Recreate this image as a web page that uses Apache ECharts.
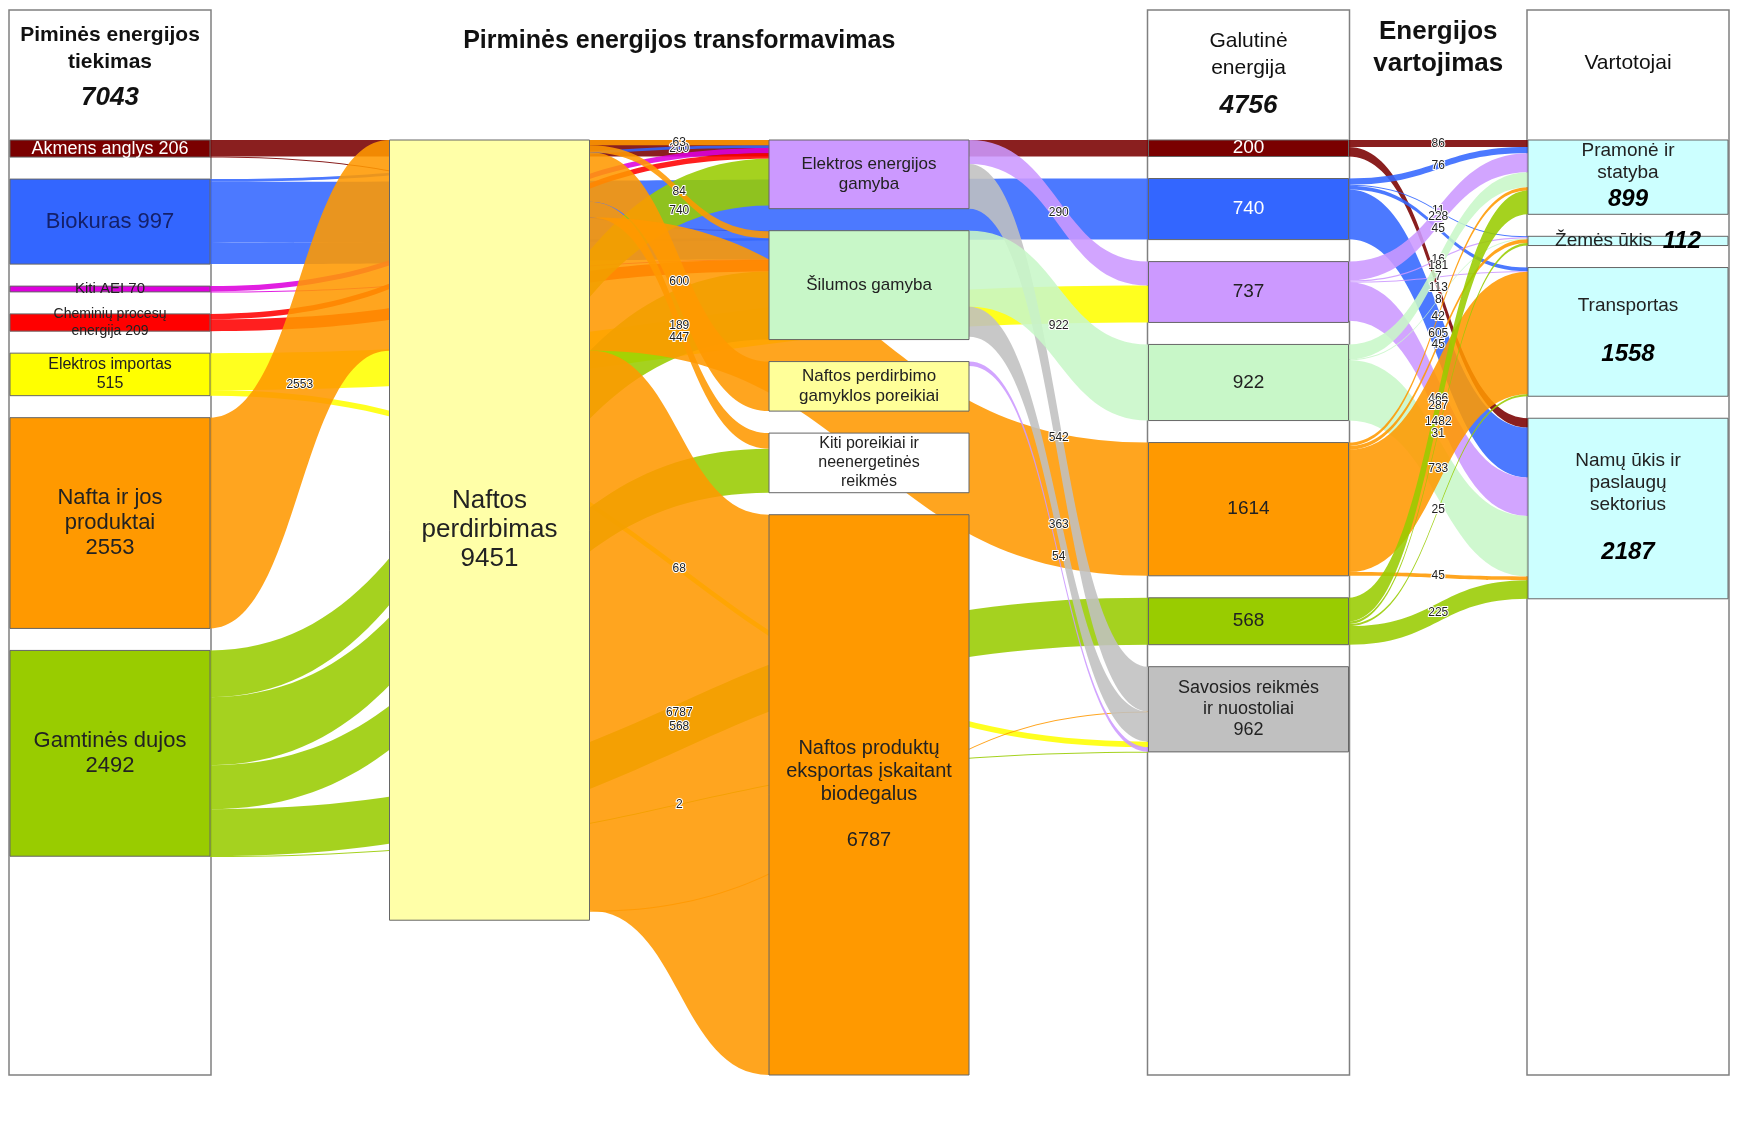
<!DOCTYPE html>
<html>
<head>
<meta charset="utf-8">
<script src="https://cdn.jsdelivr.net/npm/echarts@6/dist/echarts.min.js"></script>
<style>
html,body{margin:0;padding:0;background:#ffffff;}
#chart{width:1738px;height:1141px;}
</style>
</head>
<body>
<div id="chart"></div>
<script>
// ---------------- DATA ----------------
const supplyNodes = ['Akmens anglys', 'Biokuras', 'Kiti AEI', 'Cheminių procesų energija', 'Elektros importas', 'Nafta ir jos produktai', 'Gamtinės dujos'];
const supplyValues = [206, 997, 70, 209, 515, 2553, 2492];
const supplyTotal = 7043;

const transformNodes = ['Naftos perdirbimas', 'Elektros energijos gamyba', 'Šilumos gamyba', 'Naftos perdirbimo gamyklos poreikiai', 'Kiti poreikiai ir neenergetinės reikmės', 'Naftos produktų eksportas įskaitant biodegalus'];
const transformValues = [9451, null, null, null, null, 6787];

const finalNodes = ['Anglys (galutinė)', 'Biokuras (galutinė)', 'Elektra (galutinė)', 'Šiluma (galutinė)', 'Naftos produktai (galutinė)', 'Dujos (galutinė)', 'Savosios reikmės ir nuostoliai'];
const finalValues = [200, 740, 737, 922, 1614, 568, 962];
const finalTotal = 4756;

const consumerNodes = ['Pramonė ir statyba', 'Žemės ūkis', 'Transportas', 'Namų ūkis ir paslaugų sektorius'];
const consumerValues = [899, 112, 1558, 2187];

// [from, to, value]
const supplyFlows = [
  ['Akmens anglys', 'Šilumos gamyba', 7],
  ['Akmens anglys', 'Anglys (galutinė)', 200],
  ['Biokuras', 'Elektros energijos gamyba', 33],
  ['Biokuras', 'Šilumos gamyba', 257],
  ['Biokuras', 'Biokuras (galutinė)', 740],
  ['Kiti AEI', 'Elektros energijos gamyba', 66],
  ['Kiti AEI', 'Šilumos gamyba', 4],
  ['Cheminių procesų energija', 'Elektros energijos gamyba', 66],
  ['Cheminių procesų energija', 'Šilumos gamyba', 143],
  ['Elektros importas', 'Elektra (galutinė)', 447],
  ['Elektros importas', 'Savosios reikmės ir nuostoliai', 68],
  ['Nafta ir jos produktai', 'Naftos perdirbimas', 2553],
  ['Gamtinės dujos', 'Elektros energijos gamyba', 566],
  ['Gamtinės dujos', 'Šilumos gamyba', 824],
  ['Gamtinės dujos', 'Kiti poreikiai ir neenergetinės reikmės', 533],
  ['Gamtinės dujos', 'Dujos (galutinė)', 568],
  ['Gamtinės dujos', 'Savosios reikmės ir nuostoliai', 2]
];
const transformFlows = [
  ['Naftos perdirbimas', 'Elektros energijos gamyba', 63],
  ['Naftos perdirbimas', 'Šilumos gamyba', 84],
  ['Naftos perdirbimas', 'Naftos perdirbimo gamyklos poreikiai', 600],
  ['Naftos perdirbimas', 'Kiti poreikiai ir neenergetinės reikmės', 189],
  ['Naftos perdirbimas', 'Naftos produktų eksportas įskaitant biodegalus', 6787],
  ['Naftos perdirbimas', 'Naftos produktai (galutinė)', 1614],
  ['Naftos perdirbimas', 'Savosios reikmės ir nuostoliai', 3],
  ['Elektros energijos gamyba', 'Elektra (galutinė)', 290],
  ['Elektros energijos gamyba', 'Savosios reikmės ir nuostoliai', 542],
  ['Šilumos gamyba', 'Šiluma (galutinė)', 922],
  ['Šilumos gamyba', 'Savosios reikmės ir nuostoliai', 363],
  ['Naftos perdirbimo gamyklos poreikiai', 'Savosios reikmės ir nuostoliai', 54]
];
const consumptionFlows = [
  ['Anglys (galutinė)', 'Pramonė ir statyba', 86],
  ['Anglys (galutinė)', 'Namų ūkis ir paslaugų sektorius', 113],
  ['Biokuras (galutinė)', 'Pramonė ir statyba', 76],
  ['Biokuras (galutinė)', 'Žemės ūkis', 11],
  ['Biokuras (galutinė)', 'Transportas', 45],
  ['Biokuras (galutinė)', 'Namų ūkis ir paslaugų sektorius', 605],
  ['Elektra (galutinė)', 'Pramonė ir statyba', 228],
  ['Elektra (galutinė)', 'Žemės ūkis', 16],
  ['Elektra (galutinė)', 'Transportas', 7],
  ['Elektra (galutinė)', 'Namų ūkis ir paslaugų sektorius', 466],
  ['Šiluma (galutinė)', 'Pramonė ir statyba', 181],
  ['Šiluma (galutinė)', 'Žemės ūkis', 8],
  ['Šiluma (galutinė)', 'Namų ūkis ir paslaugų sektorius', 733],
  ['Naftos produktai (galutinė)', 'Pramonė ir statyba', 42],
  ['Naftos produktai (galutinė)', 'Žemės ūkis', 45],
  ['Naftos produktai (galutinė)', 'Transportas', 1482],
  ['Naftos produktai (galutinė)', 'Namų ūkis ir paslaugų sektorius', 45],
  ['Dujos (galutinė)', 'Pramonė ir statyba', 287],
  ['Dujos (galutinė)', 'Žemės ūkis', 31],
  ['Dujos (galutinė)', 'Transportas', 25],
  ['Dujos (galutinė)', 'Namų ūkis ir paslaugų sektorius', 225]
];

// ---------------- STYLE / LAYOUT ----------------
const W = 1738, H = 1141;
const L = 10, R = 10, NW = 200, TOP = 140, BOTTOM = 66;
const colX = i => L + i * (W - L - R - NW) / 4;

const C = {
  coal: '#7a0000', bio: '#3366ff', aei: '#dd00dd', chem: '#ff0000', imp: '#ffff00',
  oil: '#ff9900', gas: '#99cc00', elec: '#cc99ff', heat: '#c8f7c8', loss: '#c0c0c0',
  cons: '#ccffff', refin: '#ffffa8', needs: '#ffff99', other: '#ffffff'
};
const nodeColor = {
  'Akmens anglys': C.coal, 'Biokuras': C.bio, 'Kiti AEI': C.aei, 'Cheminių procesų energija': C.chem,
  'Elektros importas': C.imp, 'Nafta ir jos produktai': C.oil, 'Gamtinės dujos': C.gas,
  'Naftos perdirbimas': C.refin, 'Elektros energijos gamyba': C.elec, 'Šilumos gamyba': C.heat,
  'Naftos perdirbimo gamyklos poreikiai': C.needs, 'Kiti poreikiai ir neenergetinės reikmės': C.other,
  'Naftos produktų eksportas įskaitant biodegalus': C.oil,
  'Anglys (galutinė)': C.coal, 'Biokuras (galutinė)': C.bio, 'Elektra (galutinė)': C.elec,
  'Šiluma (galutinė)': C.heat, 'Naftos produktai (galutinė)': C.oil, 'Dujos (galutinė)': C.gas,
  'Savosios reikmės ir nuostoliai': C.loss,
  'Pramonė ir statyba': C.cons, 'Žemės ūkis': C.cons, 'Transportas': C.cons, 'Namų ūkis ir paslaugų sektorius': C.cons
};
const labelText = {
  'Akmens anglys': v => 'Akmens anglys ' + v,
  'Biokuras': v => 'Biokuras ' + v,
  'Kiti AEI': v => 'Kiti AEI ' + v,
  'Cheminių procesų energija': v => 'Cheminių procesų\nenergija ' + v,
  'Elektros importas': v => 'Elektros importas\n' + v,
  'Nafta ir jos produktai': v => 'Nafta ir jos\nproduktai\n' + v,
  'Gamtinės dujos': v => 'Gamtinės dujos\n' + v,
  'Naftos perdirbimas': v => 'Naftos\nperdirbimas\n' + v,
  'Elektros energijos gamyba': () => 'Elektros energijos\ngamyba',
  'Šilumos gamyba': () => 'Šilumos gamyba',
  'Naftos perdirbimo gamyklos poreikiai': () => 'Naftos perdirbimo\ngamyklos poreikiai',
  'Kiti poreikiai ir neenergetinės reikmės': () => 'Kiti poreikiai ir\nneenergetinės\nreikmės',
  'Naftos produktų eksportas įskaitant biodegalus': v => 'Naftos produktų\neksportas įskaitant\nbiodegalus\n\n' + v,
  'Savosios reikmės ir nuostoliai': v => 'Savosios reikmės\nir nuostoliai\n' + v,
  'Pramonė ir statyba': v => 'Pramonė ir\nstatyba\n{b|' + v + '}',
  'Žemės ūkis': v => 'Žemės ūkis  {b|' + v + '}',
  'Transportas': v => 'Transportas\n\n{b|' + v + '}',
  'Namų ūkis ir paslaugų sektorius': v => 'Namų ūkis ir\npaslaugų\nsektorius\n\n{b|' + v + '}'
};
const labelSize = {
  'Akmens anglys': 18, 'Biokuras': 22, 'Kiti AEI': 15, 'Cheminių procesų energija': 14,
  'Elektros importas': 16, 'Nafta ir jos produktai': 22, 'Gamtinės dujos': 22,
  'Naftos perdirbimas': 26, 'Elektros energijos gamyba': 17, 'Šilumos gamyba': 17,
  'Naftos perdirbimo gamyklos poreikiai': 17, 'Kiti poreikiai ir neenergetinės reikmės': 16,
  'Naftos produktų eksportas įskaitant biodegalus': 20, 'Savosios reikmės ir nuostoliai': 18
};
const labelColor = { 'Akmens anglys': '#ffffff', 'Biokuras': '#14206a', 'Anglys (galutinė)': '#ffffff', 'Biokuras (galutinė)': '#ffffff' };

function makeNode(name, value, depth) {
  const n = { name: name, depth: depth, itemStyle: { color: nodeColor[name], borderColor: '#666', borderWidth: 1 } };
  if (value != null) n.value = value;
  const fn = labelText[name];
  n.label = {
    show: true, position: 'inside', align: 'center', verticalAlign: 'middle',
    fontFamily: 'Liberation Sans, Arial, sans-serif',
    fontSize: labelSize[name] || 19, color: labelColor[name] || '#222', lineHeight: (labelSize[name] || 19) + 3,
    formatter: fn ? fn(value) : String(value),
    rich: { b: { fontSize: 24, fontWeight: 'bold', fontStyle: 'italic', color: '#000', lineHeight: 30 } }
  };
  return n;
}

const nodes = [];
supplyNodes.forEach((n, i) => nodes.push(makeNode(n, supplyValues[i], 0)));
nodes.push(makeNode(transformNodes[0], transformValues[0], 1));
transformNodes.slice(1).forEach((n, i) => nodes.push(makeNode(n, transformValues[i + 1], 2)));
finalNodes.forEach((n, i) => nodes.push(makeNode(n, finalValues[i], 3)));
consumerNodes.forEach((n, i) => nodes.push(makeNode(n, consumerValues[i], 4)));

function linkColor(s, t) {
  if (t === 'Savosios reikmės ir nuostoliai' && (s === 'Elektros energijos gamyba' || s === 'Šilumos gamyba')) return C.loss;
  if (s === 'Naftos perdirbimo gamyklos poreikiai') return C.elec;
  if (s === 'Naftos perdirbimas') return C.oil;
  return nodeColor[s];
}
const links = supplyFlows.concat(transformFlows, consumptionFlows).map(f => ({
  source: f[0], target: f[1], value: f[2],
  lineStyle: { color: linkColor(f[0], f[1]), opacity: 0.88 }
}));

// background panels and headers (decoration)
const panelY = 10, panelH = 1065;
const graphics = [];
[0, 3, 4].forEach(i => graphics.push({
  type: 'rect', z: -10, shape: { x: colX(i) - 1, y: panelY, width: NW + 2, height: panelH },
  style: { fill: '#ffffff', stroke: '#808080', lineWidth: 1.5 }
}));
function headText(x, y, text, size, weight, style) {
  graphics.push({ type: 'text', z: 10, x: x, y: y, style: {
    text: text, fill: '#111', font: (style || 'normal') + ' ' + (weight || 'normal') + ' ' + size + 'px "Liberation Sans", Arial, sans-serif',
    textAlign: 'center', textVerticalAlign: 'top', lineHeight: size + 6 } });
}
headText(colX(0) + NW / 2, 22, 'Piminės energijos\ntiekimas', 21, 'bold');
headText(colX(0) + NW / 2, 82, String(supplyTotal), 26, 'bold', 'italic');
headText((colX(1) + colX(2)) / 2 + NW / 2, 26, 'Pirminės energijos transformavimas', 25, 'bold');
headText(colX(3) + NW / 2, 28, 'Galutinė\nenergija', 21, 'normal');
headText(colX(3) + NW / 2, 90, String(finalTotal), 26, 'bold', 'italic');
headText((colX(3) + colX(4)) / 2 + NW / 2, 16, 'Energijos\nvartojimas', 26, 'bold');
headText(colX(4) + NW / 2, 50, 'Vartotojai', 21, 'normal');

const chart = echarts.init(document.getElementById('chart'), null, { renderer: 'canvas' });
chart.setOption({
  backgroundColor: '#ffffff',
  animation: false,
  graphic: graphics,
  series: [{
    type: 'sankey',
    left: L, right: R, top: TOP, bottom: BOTTOM,
    nodeWidth: NW, nodeGap: 22,
    layoutIterations: 0,
    draggable: false,
    emphasis: { disabled: true },
    data: nodes,
    links: links,
    lineStyle: { curveness: 0.5 },
    edgeLabel: {
      show: true, fontSize: 12, color: '#222', fontFamily: 'Liberation Sans, Arial, sans-serif',
      textBorderColor: '#ffffff', textBorderWidth: 2,
      formatter: p => String(p.value)
    }
  }]
});
</script>
</body>
</html>
